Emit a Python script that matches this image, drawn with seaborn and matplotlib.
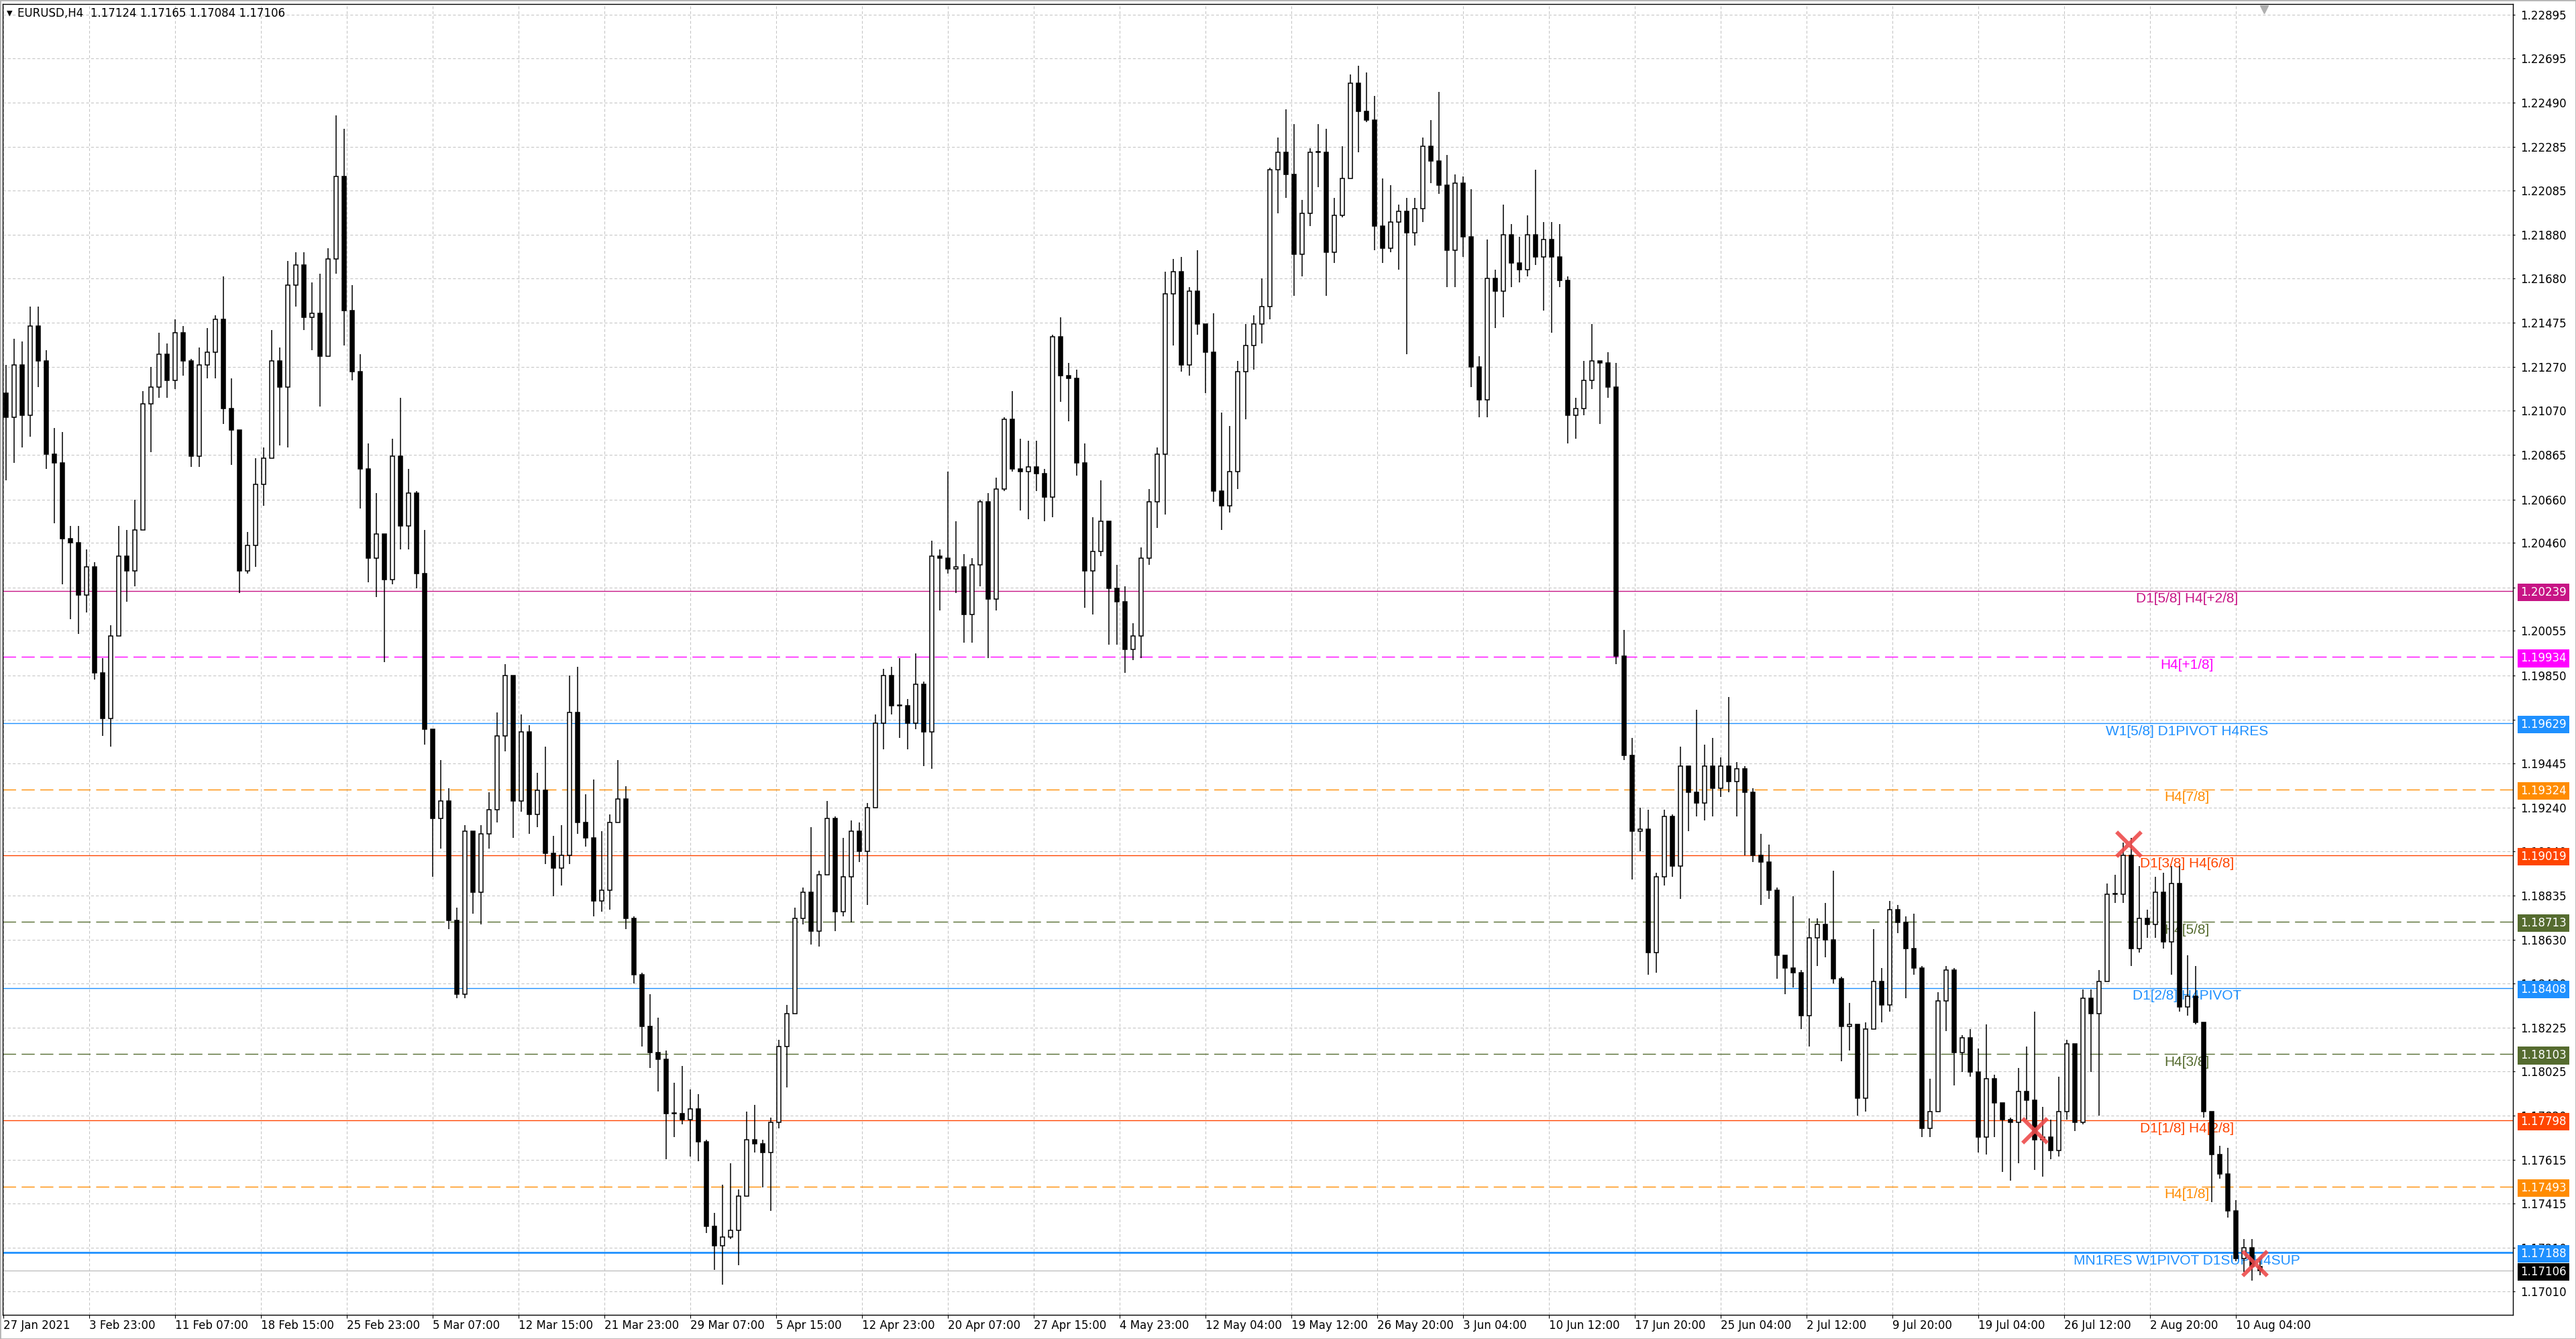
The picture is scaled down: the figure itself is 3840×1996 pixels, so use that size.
import numpy as np
import matplotlib
matplotlib.use("Agg")
import matplotlib.pyplot as plt
import matplotlib.transforms as mtransforms
import seaborn as sns

# ---------------------------------------------------------
# DATA (one candle = 3 H4 bars)
# ---------------------------------------------------------
title_text = "EURUSD,H4  1.17124 1.17165 1.17084 1.17106"
bars_per_candle = 3
first_open = 1.2115

closes = [
    1.2104, 1.2128, 1.2105, 1.2146, 1.2130, 1.2087, 1.2083, 1.2048, 1.2046, 1.2022,
    1.2035, 1.1986, 1.1965, 1.2003, 1.2040, 1.2033, 1.2052, 1.2110, 1.2118, 1.2133,
    1.2121, 1.2143, 1.2130, 1.2086, 1.2128, 1.2134, 1.2149, 1.2108, 1.2098, 1.2033,
    1.2045, 1.2073, 1.2085, 1.2130, 1.2118, 1.2165, 1.2174, 1.2150, 1.2152, 1.2132,
    1.2177, 1.2215, 1.2153, 1.2125, 1.2080, 1.2039, 1.2050, 1.2029, 1.2086, 1.2054,
    1.2069, 1.2032, 1.1960, 1.1919, 1.1927, 1.1872, 1.1838, 1.1913, 1.1885, 1.1912,
    1.1923, 1.1957, 1.1985, 1.1927, 1.1959, 1.1921, 1.1932, 1.1903, 1.1896, 1.1902,
    1.1968, 1.1917, 1.1910, 1.1881, 1.1886, 1.1917, 1.1928, 1.1873, 1.1847, 1.1823,
    1.1811, 1.1808, 1.1783, 1.1783, 1.1780, 1.1785, 1.1770, 1.1731, 1.1722, 1.1726,
    1.1729, 1.1745, 1.1771, 1.1769, 1.1765, 1.1779, 1.1814, 1.1829, 1.1873, 1.1885,
    1.1867, 1.1893, 1.1919, 1.1876, 1.1892, 1.1913, 1.1904, 1.1924, 1.1963, 1.1985,
    1.1971, 1.1971, 1.1963, 1.1981, 1.1959, 1.2040, 1.2039, 1.2034, 1.2035, 1.2013,
    1.2036, 1.2065, 1.2020, 1.2071, 1.2103, 1.2080, 1.2079, 1.2081, 1.2078, 1.2067,
    1.2141, 1.2123, 1.2122, 1.2083, 1.2033, 1.2042, 1.2056, 1.2025, 1.2019, 1.1997,
    1.2003, 1.2039, 1.2065, 1.2087, 1.2161, 1.2171, 1.2128, 1.2162, 1.2147, 1.2134,
    1.2070, 1.2063, 1.2079, 1.2125, 1.2137, 1.2147, 1.2155, 1.2218, 1.2226, 1.2216,
    1.2179, 1.2198, 1.2226, 1.2226, 1.2180, 1.2197, 1.2214, 1.2258, 1.2245, 1.2241,
    1.2192, 1.2182, 1.2194, 1.2199, 1.2189, 1.2200, 1.2229, 1.2222, 1.2211, 1.2181,
    1.2212, 1.2187, 1.2127, 1.2112, 1.2168, 1.2162, 1.2188, 1.2175, 1.2172, 1.2188,
    1.2178, 1.2186, 1.2178, 1.2167, 1.2105, 1.2108, 1.2121, 1.2130, 1.2129, 1.2118,
    1.1994, 1.1948, 1.1913, 1.1914, 1.1857, 1.1892, 1.1920, 1.1897, 1.1943, 1.1931,
    1.1926, 1.1943, 1.1933, 1.1943, 1.1936, 1.1942, 1.1931, 1.1902, 1.1899, 1.1886,
    1.1856, 1.1850, 1.1848, 1.1828, 1.1864, 1.1870, 1.1863, 1.1845, 1.1823, 1.1824,
    1.1790, 1.1822, 1.1844, 1.1833, 1.1877, 1.1871, 1.1859, 1.1850, 1.1776, 1.1784,
    1.1835, 1.1849, 1.1811, 1.1818, 1.1802, 1.1772, 1.1799, 1.1788, 1.1780, 1.1779,
    1.1793, 1.1789, 1.1771, 1.1772, 1.1766, 1.1784, 1.1815, 1.1779, 1.1836, 1.1829,
    1.1844, 1.1884, 1.1884, 1.1902, 1.1859, 1.1873, 1.1870, 1.1885, 1.1862, 1.1889,
    1.1832, 1.1837, 1.1825, 1.1784, 1.1764, 1.1755, 1.1738, 1.1716, 1.1721, 1.17124,
    1.17106,
]

highs = [
    1.2128, 1.2140, 1.2139, 1.2155, 1.2155, 1.2135, 1.2099, 1.2097, 1.2054, 1.2054,
    1.2043, 1.2037, 1.1993, 1.2008, 1.2054, 1.2052, 1.2066, 1.2116, 1.2127, 1.2143,
    1.2138, 1.2149, 1.2146, 1.2131, 1.2136, 1.2145, 1.2151, 1.2169, 1.2122, 1.2092,
    1.2051, 1.2085, 1.2090, 1.2144, 1.2136, 1.2176, 1.2180, 1.2180, 1.2166, 1.2170,
    1.2182, 1.2243, 1.2237, 1.2165, 1.2133, 1.2092, 1.2069, 1.2045, 1.2094, 1.2113,
    1.2080, 1.2070, 1.2052, 1.1958, 1.1946, 1.1933, 1.1878, 1.1916, 1.1905, 1.1916,
    1.1931, 1.1968, 1.1990, 1.1985, 1.1967, 1.1962, 1.1940, 1.1952, 1.1911, 1.1916,
    1.1985, 1.1989, 1.1930, 1.1937, 1.1913, 1.1921, 1.1946, 1.1934, 1.1874, 1.1848,
    1.1838, 1.1827, 1.1812, 1.1797, 1.1805, 1.1794, 1.1792, 1.1771, 1.1737, 1.1750,
    1.1760, 1.1748, 1.1784, 1.1787, 1.1771, 1.1781, 1.1817, 1.1833, 1.1878, 1.1887,
    1.1915, 1.1895, 1.1927, 1.1920, 1.1910, 1.1918, 1.1917, 1.1926, 1.1967, 1.1988,
    1.1989, 1.1993, 1.1974, 1.1995, 1.1982, 1.2047, 1.2043, 1.2079, 1.2056, 1.2041,
    1.2039, 1.2066, 1.2069, 1.2076, 1.2104, 1.2116, 1.2094, 1.2093, 1.2093, 1.2080,
    1.2142, 1.2150, 1.2129, 1.2126, 1.2092, 1.2058, 1.2075, 1.2056, 1.2036, 1.2026,
    1.2009, 1.2044, 1.2071, 1.2090, 1.2171, 1.2177, 1.2178, 1.2164, 1.2181, 1.2147,
    1.2152, 1.2106, 1.2100, 1.2130, 1.2147, 1.2151, 1.2168, 1.2219, 1.2233, 1.2246,
    1.2239, 1.2204, 1.2228, 1.2239, 1.2237, 1.2205, 1.2229, 1.2262, 1.2266, 1.2263,
    1.2252, 1.2214, 1.2211, 1.2202, 1.2205, 1.2205, 1.2233, 1.2241, 1.2254, 1.2225,
    1.2216, 1.2215, 1.2209, 1.2132, 1.2186, 1.2172, 1.2202, 1.2193, 1.2187, 1.2197,
    1.2218, 1.2194, 1.2194, 1.2193, 1.2169, 1.2113, 1.2130, 1.2147, 1.2130, 1.2134,
    1.2129, 1.2006, 1.1956, 1.1924, 1.1923, 1.1894, 1.1923, 1.1921, 1.1952, 1.1942,
    1.1969, 1.1953, 1.1956, 1.1947, 1.1975, 1.1945, 1.1943, 1.1933, 1.1912, 1.1907,
    1.1887, 1.1856, 1.1883, 1.1849, 1.1873, 1.1873, 1.1880, 1.1895, 1.1846, 1.1834,
    1.1824, 1.1825, 1.1868, 1.1850, 1.1881, 1.1879, 1.1874, 1.1875, 1.1851, 1.1799,
    1.1839, 1.1851, 1.1850, 1.1819, 1.1822, 1.1813, 1.1824, 1.1801, 1.1786, 1.1781,
    1.1804, 1.1814, 1.1830, 1.1786, 1.1780, 1.1800, 1.1817, 1.1813, 1.1840, 1.1840,
    1.1849, 1.1889, 1.1893, 1.1908, 1.1910, 1.1897, 1.1877, 1.1892, 1.1894, 1.1897,
    1.1897, 1.1856, 1.1851, 1.1825, 1.1784, 1.1768, 1.1767, 1.1743, 1.1725, 1.1725,
    1.17165,
]

lows = [
    1.2075, 1.2083, 1.2090, 1.2095, 1.2118, 1.2080, 1.2055, 1.2027, 1.2011, 1.2004,
    1.2014, 1.1983, 1.1957, 1.1952, 1.2003, 1.2019, 1.2026, 1.2055, 1.2088, 1.2113,
    1.2113, 1.2117, 1.2123, 1.2081, 1.2081, 1.2122, 1.2122, 1.2101, 1.2082, 1.2023,
    1.2032, 1.2035, 1.2063, 1.2093, 1.2091, 1.2090, 1.2155, 1.2144, 1.2135, 1.2109,
    1.2145, 1.2170, 1.2137, 1.2121, 1.2062, 1.2028, 1.2021, 1.1991, 1.2027, 1.2043,
    1.2043, 1.2025, 1.1953, 1.1892, 1.1905, 1.1868, 1.1836, 1.1836, 1.1875, 1.1870,
    1.1905, 1.1917, 1.1950, 1.1910, 1.1922, 1.1912, 1.1915, 1.1898, 1.1883, 1.1888,
    1.1898, 1.1912, 1.1906, 1.1874, 1.1876, 1.1877, 1.1917, 1.1868, 1.1843, 1.1814,
    1.1804, 1.1793, 1.1762, 1.1772, 1.1778, 1.1763, 1.1761, 1.1728, 1.1711, 1.1704,
    1.1725, 1.1713, 1.1745, 1.1765, 1.1749, 1.1738, 1.1776, 1.1795, 1.1829, 1.1870,
    1.1861, 1.1860, 1.1893, 1.1867, 1.1874, 1.1871, 1.1899, 1.1879, 1.1924, 1.1951,
    1.1967, 1.1956, 1.1951, 1.1960, 1.1943, 1.1942, 1.2015, 1.2032, 1.2023, 1.2000,
    1.2000, 1.2026, 1.1993, 1.2015, 1.2070, 1.2079, 1.2061, 1.2057, 1.2070, 1.2056,
    1.2058, 1.2111, 1.2102, 1.2077, 1.2016, 1.2013, 1.2040, 1.1999, 1.1999, 1.1986,
    1.1992, 1.1993, 1.2036, 1.2053, 1.2059, 1.2137, 1.2125, 1.2123, 1.2142, 1.2115,
    1.2065, 1.2052, 1.2060, 1.2071, 1.2103, 1.2126, 1.2138, 1.2149, 1.2198, 1.2205,
    1.2160, 1.2169, 1.2192, 1.2210, 1.2160, 1.2175, 1.2196, 1.2214, 1.2226, 1.2240,
    1.2181, 1.2175, 1.2180, 1.2172, 1.2133, 1.2183, 1.2194, 1.2212, 1.2207, 1.2164,
    1.2164, 1.2178, 1.2118, 1.2104, 1.2104, 1.2145, 1.2150, 1.2164, 1.2166, 1.2169,
    1.2174, 1.2153, 1.2143, 1.2164, 1.2092, 1.2094, 1.2105, 1.2117, 1.2101, 1.2113,
    1.1990, 1.1946, 1.1891, 1.1904, 1.1847, 1.1848, 1.1888, 1.1892, 1.1882, 1.1913,
    1.1920, 1.1918, 1.1920, 1.1929, 1.1931, 1.1920, 1.1902, 1.1899, 1.1879, 1.1882,
    1.1845, 1.1838, 1.1841, 1.1822, 1.1814, 1.1851, 1.1855, 1.1843, 1.1807, 1.1812,
    1.1782, 1.1784, 1.1834, 1.1825, 1.1830, 1.1866, 1.1836, 1.1847, 1.1772, 1.1772,
    1.1784, 1.1821, 1.1796, 1.1802, 1.1800, 1.1765, 1.1764, 1.1772, 1.1756, 1.1752,
    1.1760, 1.1780, 1.1757, 1.1754, 1.1762, 1.1763, 1.1780, 1.1775, 1.1778, 1.1802,
    1.1782, 1.1844, 1.1880, 1.1880, 1.1851, 1.1857, 1.1864, 1.1864, 1.1859, 1.1847,
    1.1830, 1.1828, 1.1824, 1.1781, 1.1742, 1.1753, 1.1735, 1.1715, 1.1710, 1.1706,
    1.17084,
]

x_tick_labels = [
    "27 Jan 2021", "3 Feb 23:00", "11 Feb 07:00", "18 Feb 15:00", "25 Feb 23:00",
    "5 Mar 07:00", "12 Mar 15:00", "21 Mar 23:00", "29 Mar 07:00", "5 Apr 15:00",
    "12 Apr 23:00", "20 Apr 07:00", "27 Apr 15:00", "4 May 23:00", "12 May 04:00",
    "19 May 12:00", "26 May 20:00", "3 Jun 04:00", "10 Jun 12:00", "17 Jun 20:00",
    "25 Jun 04:00", "2 Jul 12:00", "9 Jul 20:00", "19 Jul 04:00", "26 Jul 12:00",
    "2 Aug 20:00", "10 Aug 04:00",
]
bars_per_label = 32

y_ticks = [
    1.22895, 1.22695, 1.22490, 1.22285, 1.22085, 1.21880, 1.21680, 1.21475,
    1.21270, 1.21070, 1.20865, 1.20660, 1.20460, 1.20255, 1.20055, 1.19850,
    1.19645, 1.19445, 1.19240, 1.19040, 1.18835, 1.18630, 1.18430, 1.18225,
    1.18025, 1.17820, 1.17615, 1.17415, 1.17210, 1.17010,
]

level_prices = [1.20239, 1.19934, 1.19629, 1.19324, 1.19019, 1.18713,
                1.18408, 1.18103, 1.17798, 1.17493, 1.17188]
level_names = ["D1[5/8] H4[+2/8]", "H4[+1/8]", "W1[5/8] D1PIVOT H4RES", "H4[7/8]",
               "D1[3/8] H4[6/8]", "H4[5/8]", "D1[2/8] H4PIVOT", "H4[3/8]",
               "D1[1/8] H4[2/8]", "H4[1/8]", "MN1RES W1PIVOT D1SUP H4SUP"]
level_colors = ["#C71585", "#FF00FF", "#1E90FF", "#FF8C00", "#FF4500", "#556B2F",
                "#1E90FF", "#556B2F", "#FF4500", "#FF8C00", "#1E90FF"]
level_dashed = [False, True, False, True, False, True, False, True, False, True, False]
level_widths = [1, 1, 1, 1, 1, 1, 1, 1, 1, 1, 2]

marker_bars = [757, 792, 839]
marker_prices = [1.17753, 1.19071, 1.17141]

last_price = 1.17106
label_bar = 813.75

# ---------------------------------------------------------
# PREPARE
# ---------------------------------------------------------
closes = np.array(closes)
highs = np.array(highs)
lows = np.array(lows)
assert len(closes) == len(highs) == len(lows)
opens = np.r_[first_open, closes[:-1]]
highs = np.maximum(highs, np.maximum(opens, closes))
lows = np.minimum(lows, np.minimum(opens, closes))
x = np.arange(len(closes)) * bars_per_candle + 1
up = closes >= opens

# ---------------------------------------------------------
# FIGURE
# ---------------------------------------------------------
sns.set_theme(style="white")
plt.rcParams["font.family"] = ["DejaVu Sans"]

W, H = 3840, 1996
fig = plt.figure(figsize=(W / 100, H / 100), dpi=100)
fig.patch.set_facecolor("white")
ax = fig.add_axes([4 / W, 1 - 1960 / H, (3746 - 4) / W, (1960 - 6) / H])
ax.set_facecolor("white")

ax.set_xlim(-0.25, 935.25)
ax.set_ylim(1.169014, 1.229446)

# grid
ax.set_xticks(np.arange(len(x_tick_labels)) * bars_per_label)
ax.set_xticklabels(x_tick_labels)
ax.set_yticks(y_ticks)
ax.set_yticklabels([f"{v:.5f}" for v in y_ticks])
ax.grid(True, color="#C4C4C4", linestyle=(0, (4, 3)), linewidth=0.75)
ax.set_axisbelow(True)

ax.yaxis.tick_right()
ax.tick_params(axis="y", which="both", right=True, left=False, direction="out",
               length=2.5, width=0.8, pad=5.5, labelsize=12, colors="black")
ax.tick_params(axis="x", which="both", bottom=True, direction="out",
               length=3.6, width=0.8, pad=1.5, labelsize=12, colors="black")
for lbl in ax.get_xticklabels():
    lbl.set_ha("left")

for sp in ax.spines.values():
    sp.set_color("black")
    sp.set_linewidth(1.0)
    sp.set_visible(True)

# level lines
for p, c, d, w in zip(level_prices, level_colors, level_dashed, level_widths):
    ls = (0, (14, 6)) if d else "-"
    ax.axhline(p, color=c, linewidth=w, linestyle=ls, zorder=1)
ax.axhline(last_price, color="#C0C0C0", linewidth=1, zorder=1)

# level names
for p, c, name in zip(level_prices, level_colors, level_names):
    ax.text(label_bar, p - 0.00037, name, color=c, ha="center", va="center",
            fontsize=15, family=["Liberation Sans", "DejaVu Sans"], zorder=2)

# candles
body_bottom = np.minimum(opens, closes)
body_height = np.maximum(np.abs(closes - opens), 0.00003)
ax.vlines(x, lows, highs, color="black", linewidth=1.1, zorder=3)
ax.bar(x[up], body_height[up], bottom=body_bottom[up], width=1.7,
       color="white", edgecolor="black", linewidth=1.1, zorder=4)
ax.bar(x[~up], body_height[~up], bottom=body_bottom[~up], width=1.7,
       color="black", edgecolor="black", linewidth=1.1, zorder=4)

# red crosses
sns.scatterplot(x=marker_bars, y=marker_prices, marker="x", s=700,
                color="#EE4B4B", linewidth=4.2, alpha=0.9, ax=ax,
                legend=False, zorder=5)

# price boxes on the right
trans = mtransforms.blended_transform_factory(ax.transAxes, ax.transData)
for p, c in zip(level_prices, level_colors):
    ax.text(1 + 11 / 3742, p, f"{p:.5f}", transform=trans, ha="left",
            va="center_baseline", color="white", fontsize=12,
            bbox=dict(boxstyle="square,pad=0.25", fc=c, ec="none"),
            clip_on=False, zorder=6)
ax.text(1 + 11 / 3742, last_price, f"{last_price:.5f}", transform=trans,
        ha="left", va="center_baseline", color="white", fontsize=12,
        bbox=dict(boxstyle="square,pad=0.25", fc="black", ec="none"),
        clip_on=False, zorder=7)

# chart shift marker
trans_top = mtransforms.blended_transform_factory(ax.transData, ax.transAxes)
ax.plot([842.6], [0.996], marker="v", ms=8, color="#B0B0B0", mec="#B0B0B0",
        transform=trans_top, clip_on=False, zorder=6)

ax.set_xlabel("")
ax.set_ylabel("")

# title
fig.text(10 / W, 1 - 20 / H, "\u25BC", fontsize=8, ha="left", va="center",
         color="black")
fig.text(26 / W, 1 - 20 / H, title_text, fontsize=12, ha="left", va="center",
         color="black")

# outer frame
fig.patches.append(plt.Rectangle((0, 0), 1, 1, transform=fig.transFigure,
                                 fill=False, edgecolor="#B4B4B4", linewidth=2))

fig.savefig("out.png", dpi=100, facecolor="white")
